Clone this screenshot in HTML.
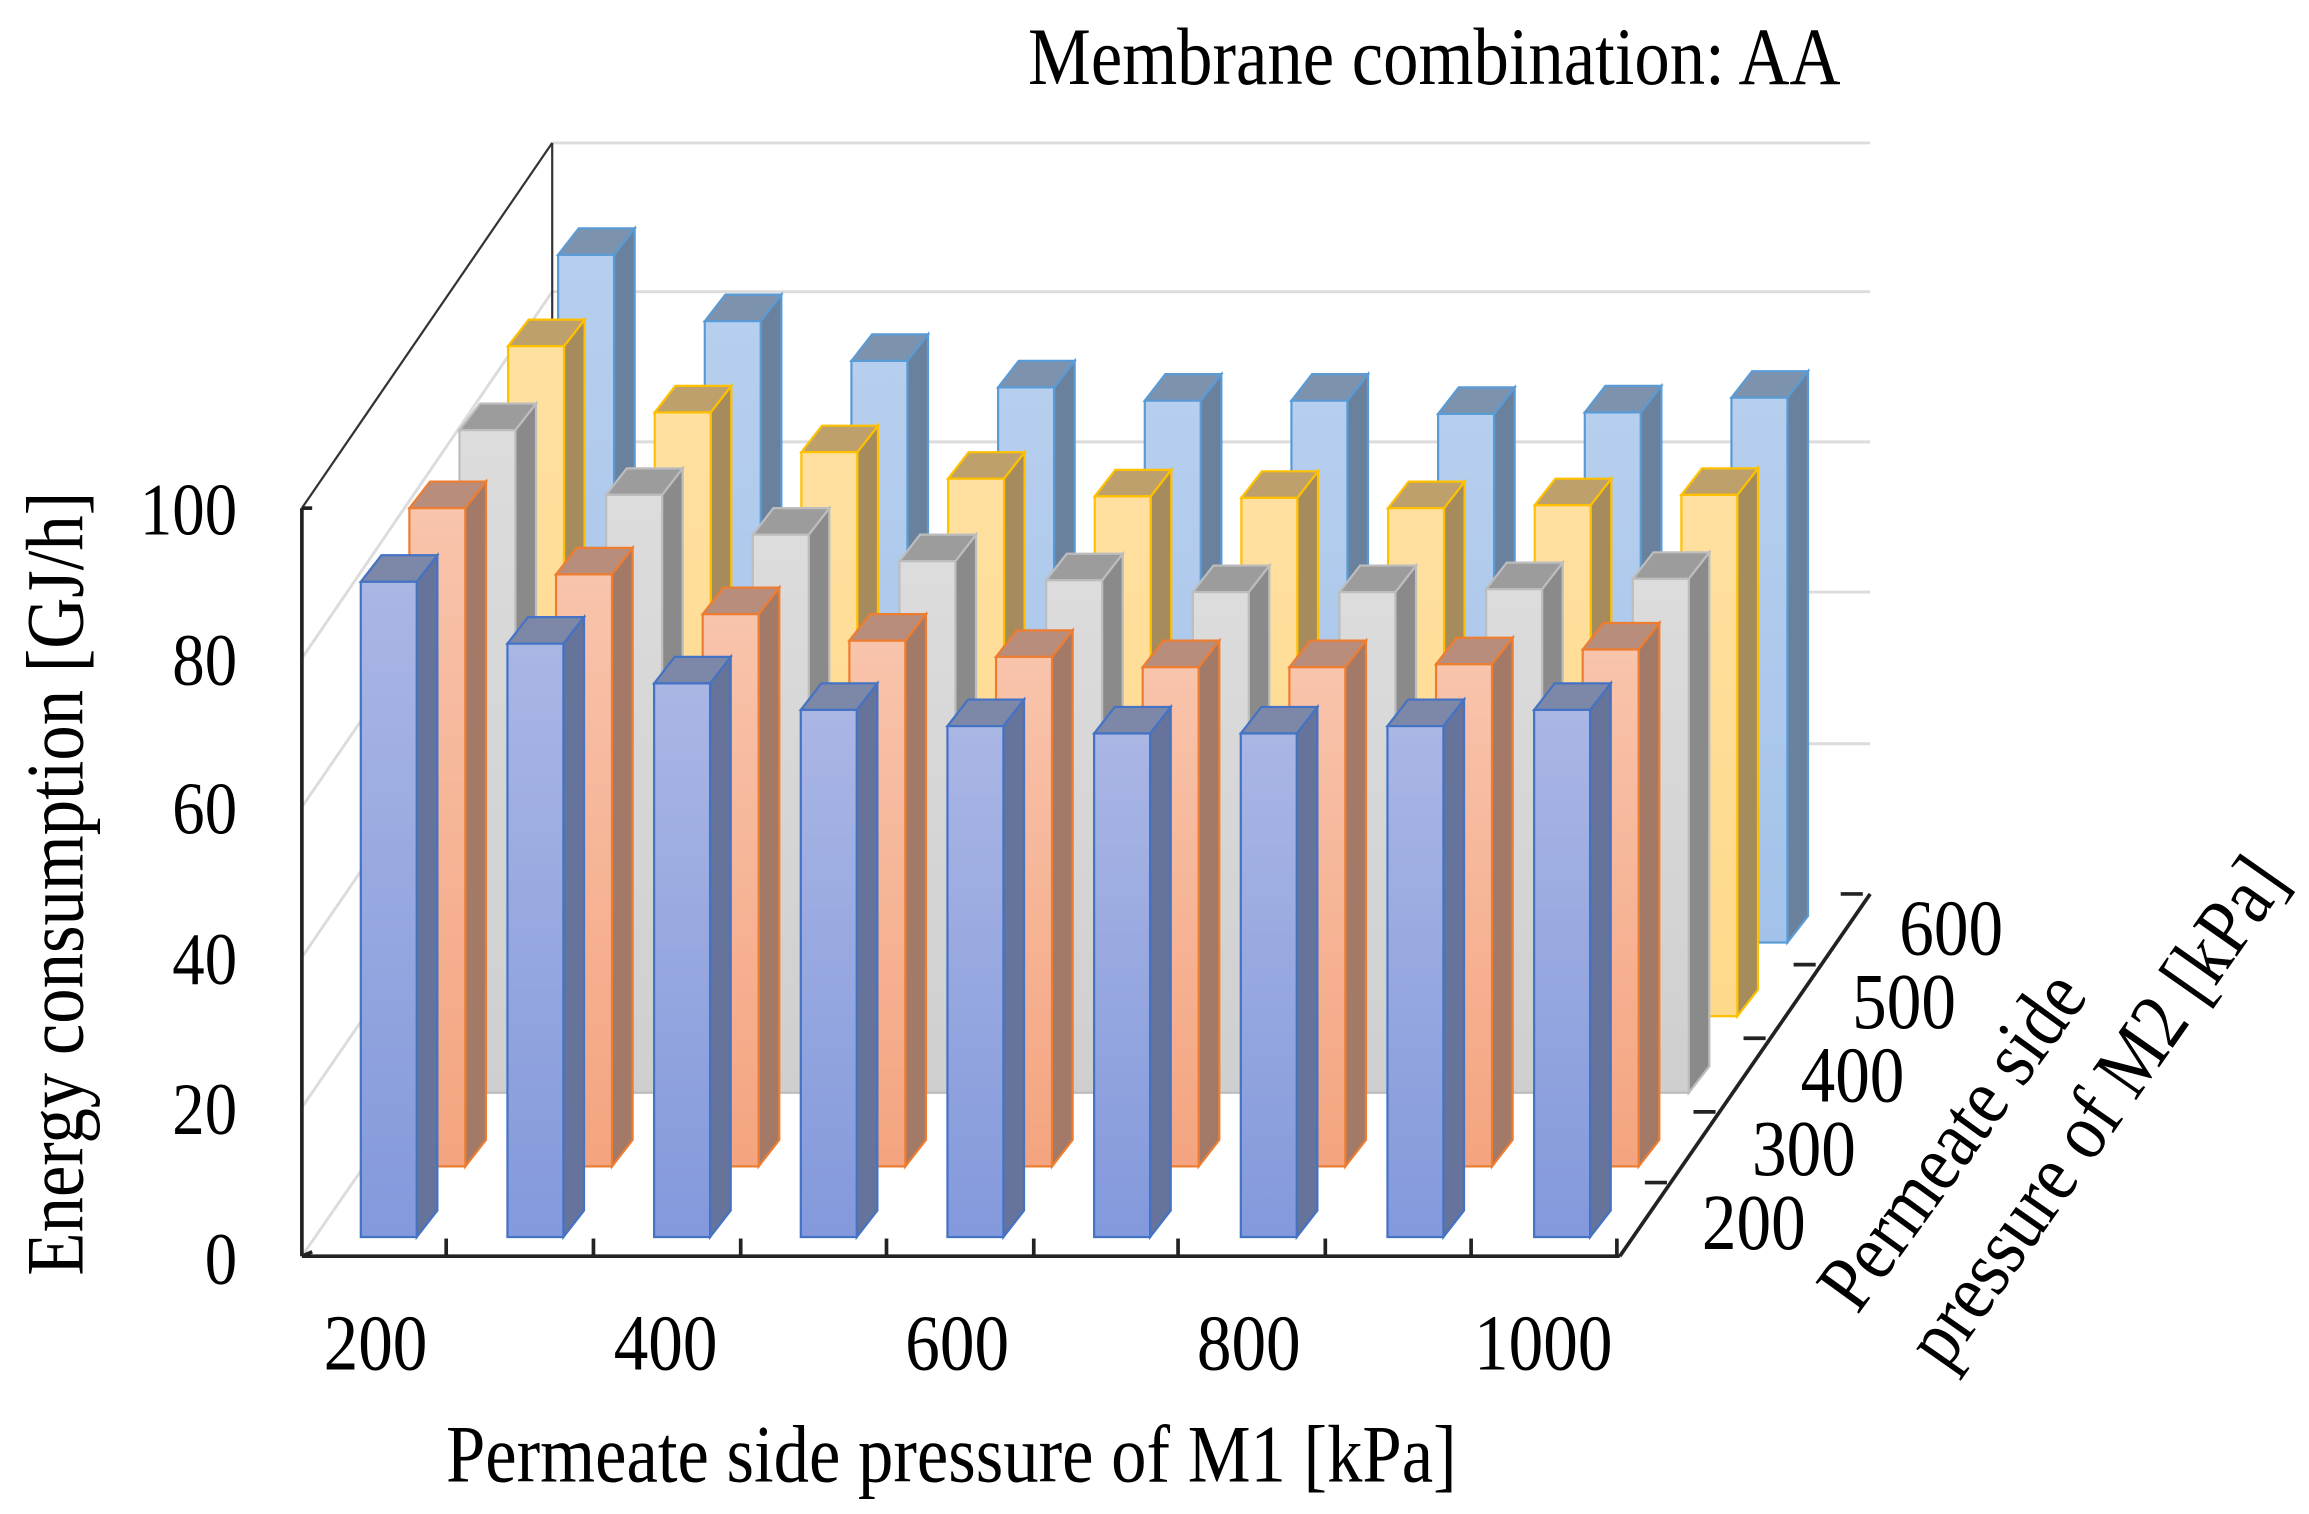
<!DOCTYPE html>
<html><head><meta charset="utf-8"><style>
html,body{margin:0;padding:0;background:#fff;}
svg{display:block;}
text{font-family:"Liberation Serif",serif;fill:#000;}
</style></head><body>
<svg id="s" width="2309" height="1514" viewBox="0 0 1568 1028" xmlns="http://www.w3.org/2000/svg">
<defs>
<linearGradient id="gb" x1="0" y1="0" x2="0" y2="1"><stop offset="0" stop-color="#aab6e4"/><stop offset="1" stop-color="#8399dc"/></linearGradient>
<linearGradient id="go" x1="0" y1="0" x2="0" y2="1"><stop offset="0" stop-color="#f8c4ac"/><stop offset="1" stop-color="#f4a47f"/></linearGradient>
<linearGradient id="gg" x1="0" y1="0" x2="0" y2="1"><stop offset="0" stop-color="#dcdcdc"/><stop offset="1" stop-color="#cfcfcf"/></linearGradient>
<linearGradient id="gy" x1="0" y1="0" x2="0" y2="1"><stop offset="0" stop-color="#ffe0a0"/><stop offset="1" stop-color="#ffd98a"/></linearGradient>
<linearGradient id="gl" x1="0" y1="0" x2="0" y2="1"><stop offset="0" stop-color="#b7cfee"/><stop offset="1" stop-color="#a3c2ea"/></linearGradient>
</defs>
<g id="grid" stroke="#dcdcdc" stroke-width="2" fill="none">
<line x1="375" y1="97" x2="1270" y2="97"/>
<line x1="375" y1="198" x2="1270" y2="198"/>
<line x1="375" y1="300" x2="1270" y2="300"/>
<line x1="375" y1="402" x2="1270" y2="402"/>
<line x1="375" y1="505" x2="1270" y2="505"/>
<line x1="205" y1="447" x2="375" y2="198"/>
<line x1="205" y1="548" x2="375" y2="300"/>
<line x1="205" y1="650" x2="375" y2="402"/>
<line x1="205" y1="752" x2="375" y2="505"/>
<line x1="205" y1="853" x2="375" y2="607"/>
</g>
<line x1="205" y1="345" x2="375" y2="97" stroke="#333" stroke-width="1.5"/>
<line x1="375" y1="97" x2="375" y2="607" stroke="#333" stroke-width="1.5"/>
<g id="bars"></g>
<g stroke="#222" stroke-width="2.5" fill="none">
<line x1="205" y1="345" x2="205" y2="853"/>
<line x1="205" y1="853" x2="1100" y2="853"/>
<line x1="1100" y1="853" x2="1270" y2="607"/>
<line x1="205" y1="345" x2="212" y2="345"/>
<line x1="205" y1="853" x2="212" y2="850"/>
<line x1="303" y1="841" x2="303" y2="853"/><line x1="403" y1="841" x2="403" y2="853"/>
<line x1="503" y1="841" x2="503" y2="853"/><line x1="602" y1="841" x2="602" y2="853"/>
<line x1="702" y1="841" x2="702" y2="853"/><line x1="800" y1="841" x2="800" y2="853"/>
<line x1="900" y1="841" x2="900" y2="853"/><line x1="999" y1="841" x2="999" y2="853"/>
<line x1="1098" y1="841" x2="1098" y2="853"/>
<line x1="1117" y1="803" x2="1132" y2="803"/><line x1="1150" y1="755" x2="1165" y2="755"/>
<line x1="1184" y1="705" x2="1199" y2="705"/><line x1="1218" y1="655" x2="1233" y2="655"/>
<line x1="1250" y1="607" x2="1265" y2="607"/>
</g>
<g font-size="44" text-anchor="end">
<text transform="translate(161,872) scale(1,1.15)">0</text>
<text transform="translate(161,770) scale(1,1.15)">20</text>
<text transform="translate(161,668) scale(1,1.15)">40</text>
<text transform="translate(161,566) scale(1,1.15)">60</text>
<text transform="translate(161,465) scale(1,1.15)">80</text>
<text transform="translate(161,363) scale(1,1.15)">100</text>
</g>
<g font-size="47" text-anchor="middle">
<text transform="translate(255,930) scale(1,1.15)">200</text>
<text transform="translate(452,930) scale(1,1.15)">400</text>
<text transform="translate(650,930) scale(1,1.15)">600</text>
<text transform="translate(848,930) scale(1,1.15)">800</text>
<text transform="translate(1048,930) scale(1,1.15)">1000</text>
</g>
<g font-size="47" text-anchor="middle">
<text transform="translate(1191,848) scale(1,1.15)">200</text>
<text transform="translate(1225,798) scale(1,1.15)">300</text>
<text transform="translate(1258,748) scale(1,1.15)">400</text>
<text transform="translate(1293,698) scale(1,1.15)">500</text>
<text transform="translate(1325,648) scale(1,1.15)">600</text>
</g>
<text transform="translate(646,1006) scale(1,1.15)" font-size="48" text-anchor="middle">Permeate side pressure of M1 [kPa]</text>
<text transform="translate(974,57) scale(1,1.15)" font-size="48" text-anchor="middle">Membrane combination: AA</text>
<text transform="translate(56,600) rotate(-90) scale(1,1.15)" font-size="48" text-anchor="middle">Energy consumption [GJ/h]</text>
<text transform="translate(1340,785) rotate(-54) scale(1,1.15)" font-size="48" text-anchor="middle">Permeate side</text>
<text transform="translate(1438,765) rotate(-55) scale(1,1.15)" font-size="48" text-anchor="middle">pressure of M2 [kPa]</text>
</svg>
<script>
var rows=[
 {x:379,b:640,f:"url(#gl)",s:"#5b9bd5",side:"#6a819e",top:"#7d93ad",t:[173,218,245,263,272,272,281,280,270]},
 {x:345,b:690,f:"url(#gy)",s:"#ffc000",side:"#a68c5c",top:"#bda06c",t:[235,280,307,325,337,338,345,343,336]},
 {x:312,b:742,f:"url(#gg)",s:"#bdbdbd",side:"#8a8a8a",top:"#9c9c9c",t:[292,336,363,381,394,402,402,400,393]},
 {x:278,b:792,f:"url(#go)",s:"#ed7d31",side:"#a37a68",top:"#b98d7c",t:[345,390,417,435,446,453,453,451,441]},
 {x:245,b:840,f:"url(#gb)",s:"#4472c4",side:"#66739a",top:"#7d88a8",t:[395,437,464,482,493,498,498,493,482]}
];
var h="";
rows.forEach(function(r){
 for(var i=0;i<9;i++){
  var x=r.x+i*99.6,t=r.t[i],b=r.b,w=38,dx=14,dy=18;
  h+='<polygon points="'+(x+w)+','+t+' '+(x+w+dx)+','+(t-dy)+' '+(x+w+dx)+','+(b-dy)+' '+(x+w)+','+b+'" fill="'+r.side+'" stroke="'+r.s+'" stroke-width="1.5"/>';
  h+='<polygon points="'+x+','+t+' '+(x+dx)+','+(t-dy)+' '+(x+w+dx)+','+(t-dy)+' '+(x+w)+','+t+'" fill="'+r.top+'" stroke="'+r.s+'" stroke-width="1.5"/>';
  h+='<rect x="'+x+'" y="'+t+'" width="'+w+'" height="'+(b-t)+'" fill="'+r.f+'" stroke="'+r.s+'" stroke-width="1.5"/>';
 }
});
document.getElementById("bars").innerHTML=h;
</script>
</body></html>
